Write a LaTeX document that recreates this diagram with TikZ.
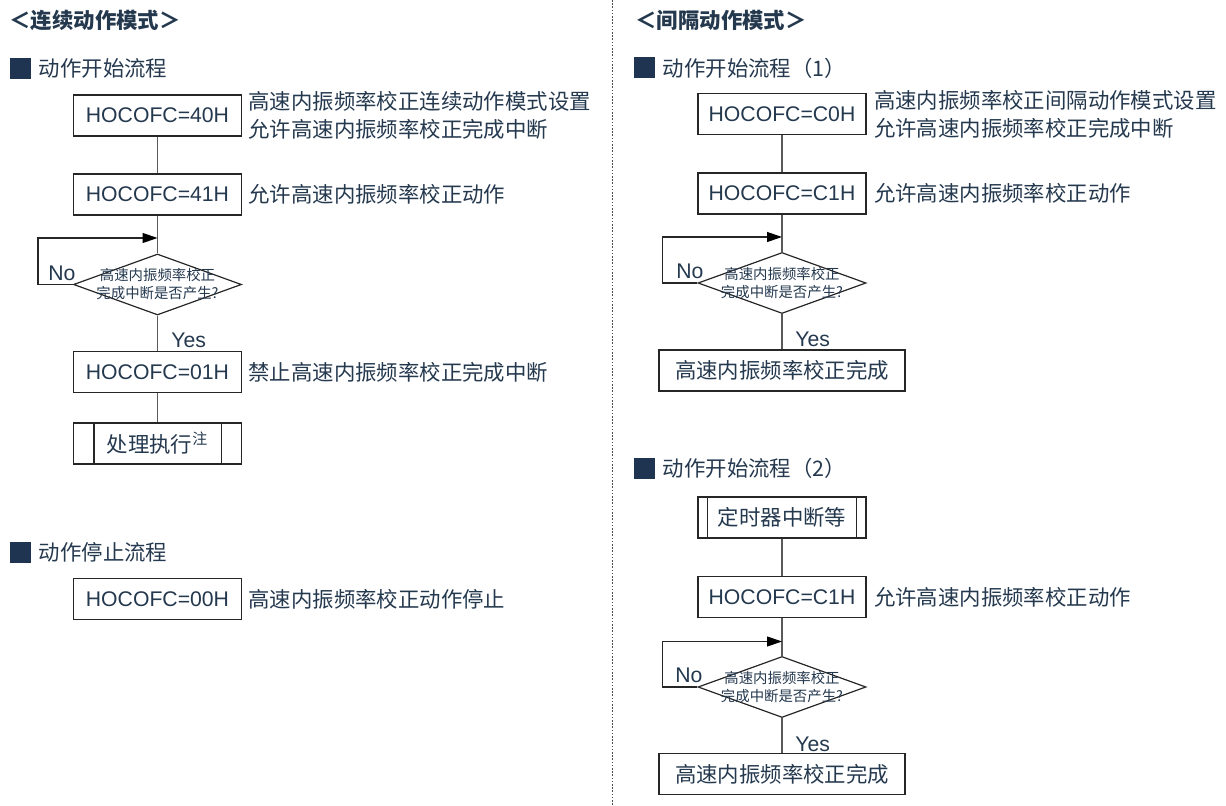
\documentclass[tikz,border=0pt]{standalone}
\usepackage{fontspec}
\setmainfont{Liberation Sans}
\newfontfamily\cjk{Noto Sans CJK SC}
\usetikzlibrary{arrows.meta,shapes.geometric,positioning}
\definecolor{navy}{HTML}{1F3450}
\definecolor{ink}{HTML}{24384E}
\definecolor{wirecol}{HTML}{5A5A5A}

\begin{document}
\begin{tikzpicture}[x=0.5pt,y=-0.5pt,>={Triangle[length=7.5pt,width=5pt,color=black]},
  every node/.style={text=ink,inner sep=0pt},
  txt/.style={font=\cjk\fontsize{10.7}{14}\selectfont,align=left,anchor=west},
  ttl/.style={font=\cjk\bfseries\fontsize{10.7}{13}\selectfont,anchor=west},
  sq/.style={fill=navy,minimum size=10.5pt},
  proc/.style={draw=black!85,line width=0.6pt,minimum width=84pt,minimum height=20.5pt,
    font=\fontsize{10.6}{13}\selectfont},
  cproc/.style={proc,font=\cjk\fontsize{10.7}{13}\selectfont},
  dec/.style={diamond,draw=black!85,line width=0.6pt,minimum width=84pt,minimum height=30.5pt},
  q/.style={font=\cjk\fontsize{7.2}{9}\selectfont,align=center},
  yn/.style={font=\fontsize{10.6}{13}\selectfont,anchor=base west},
  wire/.style={draw=wirecol,line width=0.7pt},
  loop/.style={draw=black!85,line width=0.6pt,->}]
  \useasboundingbox (0,0) rectangle (1226,806);
  \draw[dash pattern=on 0.8pt off 0.8pt,line width=0.5pt,black!70] (612,0) -- (612,806);

  % continuous mode
  \node[ttl] (tA) at (9,20) {＜连续动作模式＞};
  \node[sq] (sA1) at (20.5,68.5) {};
  \node[txt,right=3.5pt of sA1] (hA1) {动作开始流程};
  \node[proc] (a1) at (157.5,115.5) {HOCOFC=40H};
  \node[txt,right=3pt of a1] (cA1) {高速内振频率校正连续动作模式设置\\允许高速内振频率校正完成中断};
  \node[proc] (a2) at (157.5,194.5) {HOCOFC=41H};
  \node[txt,right=3pt of a2] (cA2) {允许高速内振频率校正动作};
  \coordinate (jA) at (157.5,238);
  \node[dec] (dA) at (157.5,284.5) {};
  \node[q] (qA) at (dA) {高速内振频率校正\\完成中断是否产生?};
  \node[yn] (nA) at (48,280.5) {No};
  \node[yn] (yA) at (171,347.5) {Yes};
  \node[proc] (a3) at (157.5,372) {HOCOFC=01H};
  \node[txt,right=3pt of a3] (cA3) {禁止高速内振频率校正完成中断};
  \node[cproc] (a4) at (157.5,443.5) {处理执行\textsuperscript{注}};
  \draw[line width=0.6pt,black!85] ([xshift=10.5pt]a4.north west) -- ([xshift=10.5pt]a4.south west)
    ([xshift=-10.5pt]a4.north east) -- ([xshift=-10.5pt]a4.south east);
  \draw[wire] (a1) -- (a2);
  \draw[wire] (a2) -- (dA);
  \draw[loop] (dA.west) -- ++(-35,0) |- (jA);
  \draw[wire] (dA) -- (a3);
  \draw[wire] (a3) -- (a4);

  \node[sq] (sA2) at (20.5,552.5) {};
  \node[txt,right=3.5pt of sA2] (hA2) {动作停止流程};
  \node[proc] (a5) at (157.5,599) {HOCOFC=00H};
  \node[txt,right=3pt of a5] (cA5) {高速内振频率校正动作停止};

  % interval mode
  \node[ttl] (tB) at (635,20) {＜间隔动作模式＞};
  \node[sq] (sB1) at (644.5,68) {};
  \node[txt,right=3.5pt of sB1] (hB1) {动作开始流程（1）};
  \node[proc] (b1) at (782,114) {HOCOFC=C0H};
  \node[txt,right=3.5pt of b1] (cB1) {高速内振频率校正间隔动作模式设置\\允许高速内振频率校正完成中断};
  \node[proc] (b2) at (782,193.5) {HOCOFC=C1H};
  \node[txt,right=3.5pt of b2] (cB2) {允许高速内振频率校正动作};
  \coordinate (jB) at (782,237);
  \node[dec] (dB) at (782,283) {};
  \node[q] (qB) at (dB) {高速内振频率校正\\完成中断是否产生?};
  \node[yn] (nB) at (676,278.5) {No};
  \node[yn] (yB) at (795,346.5) {Yes};
  \node[cproc,minimum width=123pt] (b3) at (782,370.5) {高速内振频率校正完成};
  \draw[wire] (b1) -- (b2);
  \draw[wire] (b2) -- (dB);
  \draw[loop] (dB.west) -- ++(-35,0) |- (jB);
  \draw[wire] (dB) -- (b3);

  \node[sq] (sB2) at (644.5,468.5) {};
  \node[txt,right=3.5pt of sB2] (hB2) {动作开始流程（2）};
  \node[cproc] (b4) at (782,517.5) {定时器中断等};
  \draw[line width=0.6pt,black!85] ([xshift=5pt]b4.north west) -- ([xshift=5pt]b4.south west)
    ([xshift=-5pt]b4.north east) -- ([xshift=-5pt]b4.south east);
  \node[proc] (b5) at (782,597) {HOCOFC=C1H};
  \node[txt,right=3.5pt of b5] (cB5) {允许高速内振频率校正动作};
  \coordinate (jC) at (782,641.5);
  \node[dec] (dC) at (782,687) {};
  \node[q] (qC) at (dC) {高速内振频率校正\\完成中断是否产生?};
  \node[yn] (nC) at (675,682.5) {No};
  \node[yn] (yC) at (795,751.5) {Yes};
  \node[cproc,minimum width=123pt] (b6) at (782,774) {高速内振频率校正完成};
  \draw[wire] (b4) -- (b5);
  \draw[wire] (b5) -- (dC);
  \draw[loop] (dC.west) -- ++(-35,0) |- (jC);
  \draw[wire] (dC) -- (b6);
\end{tikzpicture}
\end{document}
